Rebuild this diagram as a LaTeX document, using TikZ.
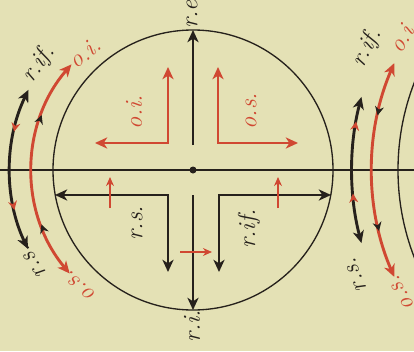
\documentclass[tikz,border=0pt]{standalone}
\usepackage{tikz}
\usetikzlibrary{arrows.meta,decorations.markings}
\definecolor{paper}{RGB}{228,225,181}
\definecolor{ink}{RGB}{38,33,28}
\definecolor{rouge}{RGB}{208,72,50}

\begin{document}
\begin{tikzpicture}[x=0.45pt, y=0.45pt,
  >={Stealth[length=5.5pt, width=5pt, inset=1.6pt]},
  blk/.style={draw=ink, line width=1.3pt},
  rd/.style={draw=rouge, line width=1.3pt},
  thin/.style={draw=ink, line width=0.6pt},
  small/.style={draw=rouge, line width=0.7pt, -{Stealth[length=4pt, width=3.5pt, inset=1.2pt]}},
  lbl/.style={font=\fontsize{11}{13}\selectfont\itshape, inner sep=0pt}]
\fill[paper] (0,0) rectangle (414,351);
\clip (0,0) rectangle (414,351);
% the two discs and the axis
\coordinate (o) at (193,181);
\coordinate (p) at (640,181);
\coordinate (w) at (0,181);
\coordinate (e) at (414,181);
\draw[thin] (o) circle[radius=140];
\draw[thin] (p) circle[radius=242];
\draw[ink, line width=1.1pt] (w) -- (e);
\fill[ink] (o) circle[radius=3.5];
% black arrows
\coordinate (up0) at (193,206);
\coordinate (up1) at (193,321);
\coordinate (dn0) at (193,156);
\coordinate (dn1) at (193,41);
\draw[blk,->] (up0) -- (up1);
\draw[blk,->] (dn0) -- (dn1);
\coordinate (ls) at (55,156);
\coordinate (lc) at (168,156);
\coordinate (lb) at (168,79);
\draw[blk,<->] (ls) -- (lc) -- (lb);
\coordinate (rs) at (331,156);
\coordinate (rc) at (219,156);
\coordinate (rb) at (219,79);
\draw[blk,<->] (rs) -- (rc) -- (rb);
% red arrows
\coordinate (ot) at (168,284);
\coordinate (oc) at (168,208);
\coordinate (ol) at (95,208);
\draw[rd,<->] (ot) -- (oc) -- (ol);
\coordinate (st) at (218,284);
\coordinate (sc) at (218,208);
\coordinate (sr) at (298,208);
\draw[rd,<->] (st) -- (sc) -- (sr);
\coordinate (a0) at (110,143);
\coordinate (a1) at (110,174);
\coordinate (b0) at (278,143);
\coordinate (b1) at (278,174);
\coordinate (c0) at (180,99);
\coordinate (c1) at (212,99);
\draw[small] (a0) -- (a1);
\draw[small] (b0) -- (b1);
\draw[small] (c0) -- (c1);
% arcs, left
\coordinate (k1) at ([shift={(o)}]154:183);
\coordinate (k2) at ([shift={(o)}]139:161);
\draw[blk,<->, postaction={decorate}, decoration={markings,
  mark=at position 0.27 with {\arrow{Stealth[length=4pt, width=4pt, color=rouge]}},
  mark=at position 0.75 with {\arrow{Stealth[length=4pt, width=4pt, color=rouge]}}}]
  (k1) arc[start angle=154, end angle=205.5, radius=183];
\draw[rd,<->, postaction={decorate}, decoration={markings,
  mark=at position 0.26 with {\arrowreversed{Stealth[length=4pt, width=4pt, color=ink]}},
  mark=at position 0.75 with {\arrowreversed{Stealth[length=4pt, width=4pt, color=ink]}}}]
  (k2) arc[start angle=139, end angle=220, radius=161];
% arcs, right
\coordinate (m1) at ([shift={(p)}]165.3:288);
\coordinate (m2) at ([shift={(p)}]156.5:268);
\draw[blk,<->, postaction={decorate}, decoration={markings,
  mark=at position 0.17 with {\arrowreversed{Stealth[length=4pt, width=4pt, color=rouge]}},
  mark=at position 0.66 with {\arrowreversed{Stealth[length=4pt, width=4pt, color=rouge]}}}]
  (m1) arc[start angle=165.3, end angle=194.7, radius=288];
\draw[rd,<->, postaction={decorate}, decoration={markings,
  mark=at position 0.25 with {\arrow{Stealth[length=4pt, width=4pt, color=ink]}},
  mark=at position 0.78 with {\arrow{Stealth[length=4pt, width=4pt, color=ink]}}}]
  (m2) arc[start angle=156.5, end angle=203.5, radius=268];
% labels
\node[lbl, ink, rotate=55] (rif1) at (39,287) {r.if.};
\node[lbl, rouge, rotate=40] (oi1) at (85,298) {o.i.};
\node[lbl, ink, rotate=124] (rs1) at (33,89) {r.s.};
\node[lbl, rouge, rotate=138] (os1) at (80,65) {o.s.};
\node[lbl, rouge, rotate=90] (oi2) at (134,239) {o.i.};
\node[lbl, rouge, rotate=90] (os2) at (251,240) {o.s.};
\node[lbl, ink, rotate=90] (rs2) at (137,128) {r.s.};
\node[lbl, ink, rotate=90] (rif2) at (249,122) {r.if.};
\node[lbl, ink, rotate=90] (ri) at (192,25) {r.i.};
\node[lbl, ink, rotate=90] (re) at (192,340) {r.e.};
\node[lbl, ink, rotate=62] (rif3) at (367,303) {r.if.};
\node[lbl, rouge, rotate=60] (oi3) at (403,315) {o.i.};
\node[lbl, ink, rotate=112] (rs3) at (356,76) {r.s.};
\node[lbl, rouge, rotate=120] (os3) at (402,58) {o.s.};
\end{tikzpicture}
\end{document}
